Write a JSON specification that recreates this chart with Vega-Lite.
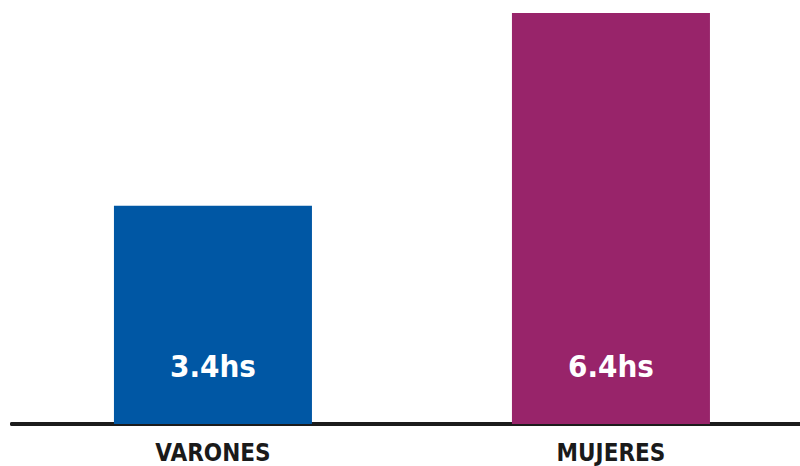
{
  "$schema": "https://vega.github.io/schema/vega-lite/v6.json",
  "width": 788,
  "height": 411,
  "autosize": "none",
  "padding": {"left": 12, "right": 0, "top": 13, "bottom": 42},
  "background": "white",
  "config": {"view": {"stroke": null}},
  "data": {"values": [
    {"grupo": "VARONES", "horas": 3.4, "etiqueta": "3.4hs"},
    {"grupo": "MUJERES", "horas": 6.4, "etiqueta": "6.4hs"}
  ]},
  "layer": [
    {
      "mark": {"type": "rule", "stroke": "#1c1c1c", "strokeWidth": 4, "strokeCap": "round"},
      "encoding": {"y": {"datum": 0, "type": "quantitative", "scale": {"domain": [0, 6.4], "nice": false}, "axis": null}}
    },
    {
      "mark": {"type": "bar"},
      "encoding": {
        "x": {
          "field": "grupo", "type": "nominal", "sort": null,
          "scale": {"paddingInner": 0.5025, "paddingOuter": 0.2412, "align": 0.531},
          "axis": {
            "title": null, "domain": false, "ticks": false, "labelAngle": 0,
            "labelFont": "DejaVu Sans Condensed",
            "labelFontSize": 24, "labelFontWeight": "bold", "labelColor": "#1a1a1a",
            "labelPadding": 17
          }
        },
        "y": {"field": "horas", "type": "quantitative", "scale": {"domain": [0, 6.4], "nice": false}, "axis": null},
        "color": {"field": "grupo", "type": "nominal", "scale": {"domain": ["VARONES", "MUJERES"], "range": ["#0057a4", "#98246a"]}, "legend": null}
      }
    },
    {
      "mark": {"type": "text", "color": "white", "font": "DejaVu Sans Condensed", "fontSize": 31, "fontWeight": "bold", "baseline": "alphabetic", "dy": -47},
      "encoding": {
        "x": {"field": "grupo", "type": "nominal", "sort": null},
        "y": {"datum": 0, "type": "quantitative"},
        "text": {"field": "etiqueta"}
      }
    }
  ]
}
